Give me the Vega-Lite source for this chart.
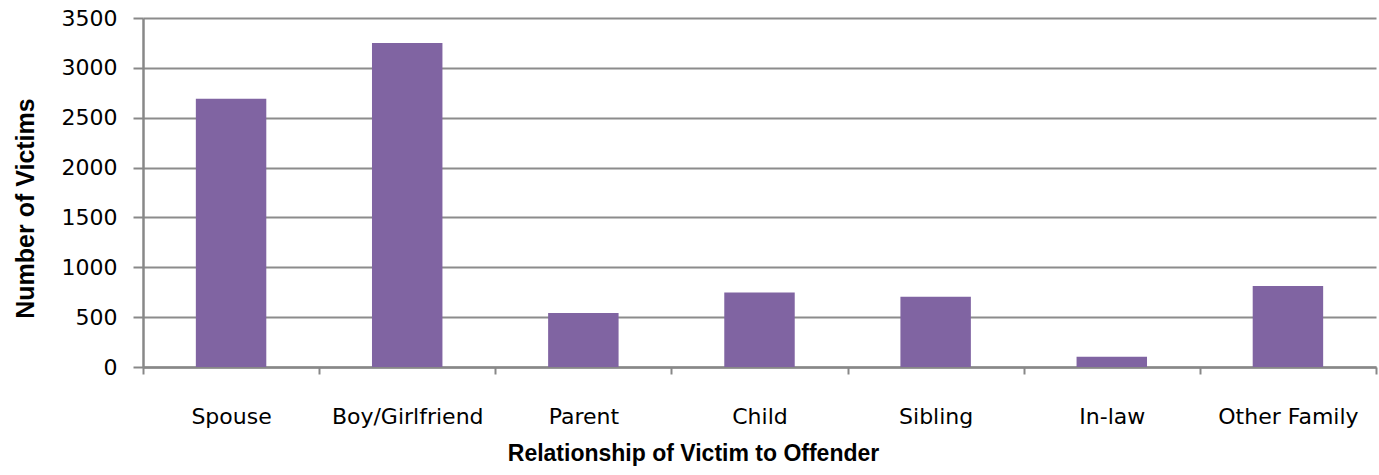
{
  "$schema": "https://vega.github.io/schema/vega-lite/v6.json",
  "width": 1233,
  "height": 349,
  "autosize": {"type": "none"},
  "padding": {"left": 143, "top": 18, "right": 3, "bottom": 108},
  "background": "white",
  "config": {"view": {"stroke": null}},
  "data": {
    "values": [
      {"relationship": "Spouse", "victims": 2690},
      {"relationship": "Boy/Girlfriend", "victims": 3250},
      {"relationship": "Parent", "victims": 542},
      {"relationship": "Child", "victims": 746},
      {"relationship": "Sibling", "victims": 705},
      {"relationship": "In-law", "victims": 103},
      {"relationship": "Other Family", "victims": 813}
    ]
  },
  "mark": {"type": "bar", "color": "#8064A2", "width": {"band": 0.4}},
  "encoding": {
    "x": {
      "field": "relationship",
      "type": "nominal",
      "sort": null,
      "scale": {"paddingInner": 0, "paddingOuter": 0},
      "axis": {
        "title": "Relationship of Victim to Offender",
        "titleFont": "Liberation Sans",
        "titleFontWeight": "bold",
        "titleFontSize": 23,
        "titleColor": "#000000",
        "titleX": 550,
        "titleY": 93,
        "titleBaseline": "alphabetic",
        "titleAlign": "center",
        "labelAngle": 0,
        "labelFont": "DejaVu Sans",
        "labelFontSize": 22,
        "labelColor": "#000000",
        "labelBaseline": "alphabetic",
        "labelPadding": 49,
        "tickBand": "extent",
        "tickSize": 7,
        "tickColor": "#888888",
        "tickWidth": 2,
        "domainColor": "#888888",
        "domainWidth": 2.5
      }
    },
    "y": {
      "field": "victims",
      "type": "quantitative",
      "scale": {"domain": [0, 3500], "nice": false},
      "axis": {
        "title": "Number of Victims",
        "titleFont": "Liberation Sans",
        "titleFontWeight": "bold",
        "titleFontSize": 25,
        "titleColor": "#000000",
        "titleAngle": -90,
        "titleX": -110,
        "titleY": 190,
        "titleAlign": "center",
        "titleBaseline": "alphabetic",
        "values": [0, 500, 1000, 1500, 2000, 2500, 3000, 3500],
        "format": "d",
        "labelFont": "DejaVu Sans",
        "labelFontSize": 22,
        "labelColor": "#000000",
        "labelPadding": 16,
        "tickSize": 10,
        "tickColor": "#888888",
        "tickWidth": 2,
        "domainColor": "#888888",
        "domainWidth": 2.5,
        "grid": true,
        "gridColor": "#8c8c8c",
        "gridWidth": 2
      }
    }
  }
}
